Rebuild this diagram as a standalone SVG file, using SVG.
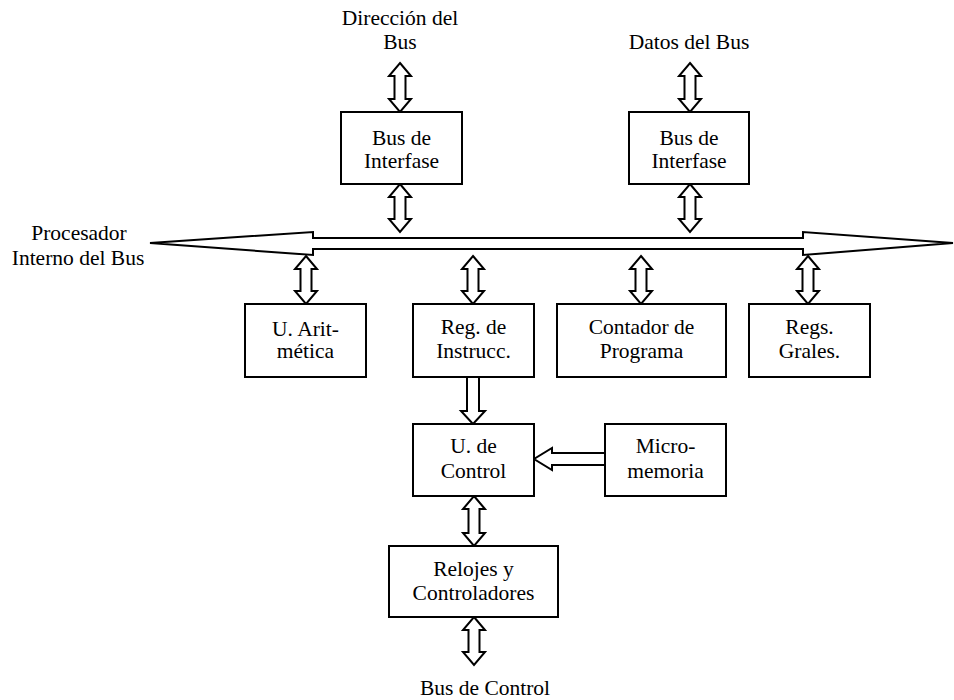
<svg xmlns="http://www.w3.org/2000/svg" width="954" height="700" viewBox="0 0 954 700">
<style>
.box{fill:#fff;stroke:#000;stroke-width:2}
.arr{fill:#fff;stroke:#000;stroke-width:2;stroke-linejoin:miter}
text{font-family:'Liberation Serif','Times New Roman',Times,serif;font-size:21.5px;fill:#000;text-anchor:middle}
</style>
<rect width="954" height="700" fill="#fff"/>
<g id="labels">
<text x="400" y="25">Dirección del</text>
<text x="400" y="49">Bus</text>
<text x="689" y="49">Datos del Bus</text>
<text x="79" y="240">Procesador</text>
<text x="78" y="265">Interno del Bus</text>
<text x="485" y="695">Bus de Control</text>
</g>
<g id="connectors">
<path id="bus" class="arr" d="M150,243 L313,232 L313,238 L803,238 L803,232 L953,243 L803,255 L803,249 L313,249 L313,255 Z"/>
<path class="arr" d="M400,63 L411,76 L405.5,76 L405.5,99 L411,99 L400,112 L389,99 L394.5,99 L394.5,76 L389,76 Z"/>
<path class="arr" d="M690,63 L701,76 L695.5,76 L695.5,99 L701,99 L690,112 L679,99 L684.5,99 L684.5,76 L679,76 Z"/>
<path class="arr" d="M400,184 L411,197 L405.5,197 L405.5,219 L411,219 L400,232 L389,219 L394.5,219 L394.5,197 L389,197 Z"/>
<path class="arr" d="M690,184 L701,197 L695.5,197 L695.5,219 L701,219 L690,232 L679,219 L684.5,219 L684.5,197 L679,197 Z"/>
<path class="arr" d="M306,256 L317,269 L311.5,269 L311.5,291 L317,291 L306,304 L295,291 L300.5,291 L300.5,269 L295,269 Z"/>
<path class="arr" d="M473,256 L484,269 L478.5,269 L478.5,291 L484,291 L473,304 L462,291 L467.5,291 L467.5,269 L462,269 Z"/>
<path class="arr" d="M641,256 L652,269 L646.5,269 L646.5,291 L652,291 L641,304 L630,291 L635.5,291 L635.5,269 L630,269 Z"/>
<path class="arr" d="M808,256 L819,269 L813.5,269 L813.5,291 L819,291 L808,304 L797,291 L802.5,291 L802.5,269 L797,269 Z"/>
<path class="arr" d="M467,377 L479,377 L479,411 L485,411 L473,424 L461,411 L467,411 Z"/>
<path class="arr" d="M605,453 L552,453 L552,448 L534,459 L552,470 L552,465 L605,465 Z"/>
<path class="arr" d="M474,496 L485,509 L479.5,509 L479.5,533 L485,533 L474,546 L463,533 L468.5,533 L468.5,509 L463,509 Z"/>
<path class="arr" d="M474,617 L485,630 L479.5,630 L479.5,652 L485,652 L474,665 L463,652 L468.5,652 L468.5,630 L463,630 Z"/>
</g>
<g id="bus-interfase-dir">
<rect class="box" x="341" y="112" width="121" height="72"/>
<text x="401.5" y="145">Bus de</text>
<text x="401.5" y="168">Interfase</text>
</g>
<g id="bus-interfase-datos">
<rect class="box" x="629" y="112" width="120" height="72"/>
<text x="689" y="145">Bus de</text>
<text x="689" y="168">Interfase</text>
</g>
<g id="u-aritmetica">
<rect class="box" x="245" y="304" width="121" height="73"/>
<text x="305.5" y="336">U. Arit-</text>
<text x="305.5" y="358">mética</text>
</g>
<g id="reg-instrucc">
<rect class="box" x="413" y="304" width="121" height="73"/>
<text x="473.5" y="334">Reg. de</text>
<text x="473.5" y="358">Instrucc.</text>
</g>
<g id="contador">
<rect class="box" x="557" y="304" width="169" height="73"/>
<text x="641.5" y="334">Contador de</text>
<text x="641.5" y="358">Programa</text>
</g>
<g id="regs-grales">
<rect class="box" x="749" y="304" width="121" height="73"/>
<text x="809.5" y="334">Regs.</text>
<text x="809.5" y="358">Grales.</text>
</g>
<g id="u-control">
<rect class="box" x="413" y="424" width="121" height="72"/>
<text x="473.5" y="453">U. de</text>
<text x="473.5" y="478">Control</text>
</g>
<g id="micromemoria">
<rect class="box" x="605" y="424" width="121" height="72"/>
<text x="665.5" y="453">Micro-</text>
<text x="665.5" y="478">memoria</text>
</g>
<g id="relojes">
<rect class="box" x="389" y="546" width="169" height="71"/>
<text x="473.5" y="576">Relojes y</text>
<text x="473.5" y="600">Controladores</text>
</g>
</svg>
